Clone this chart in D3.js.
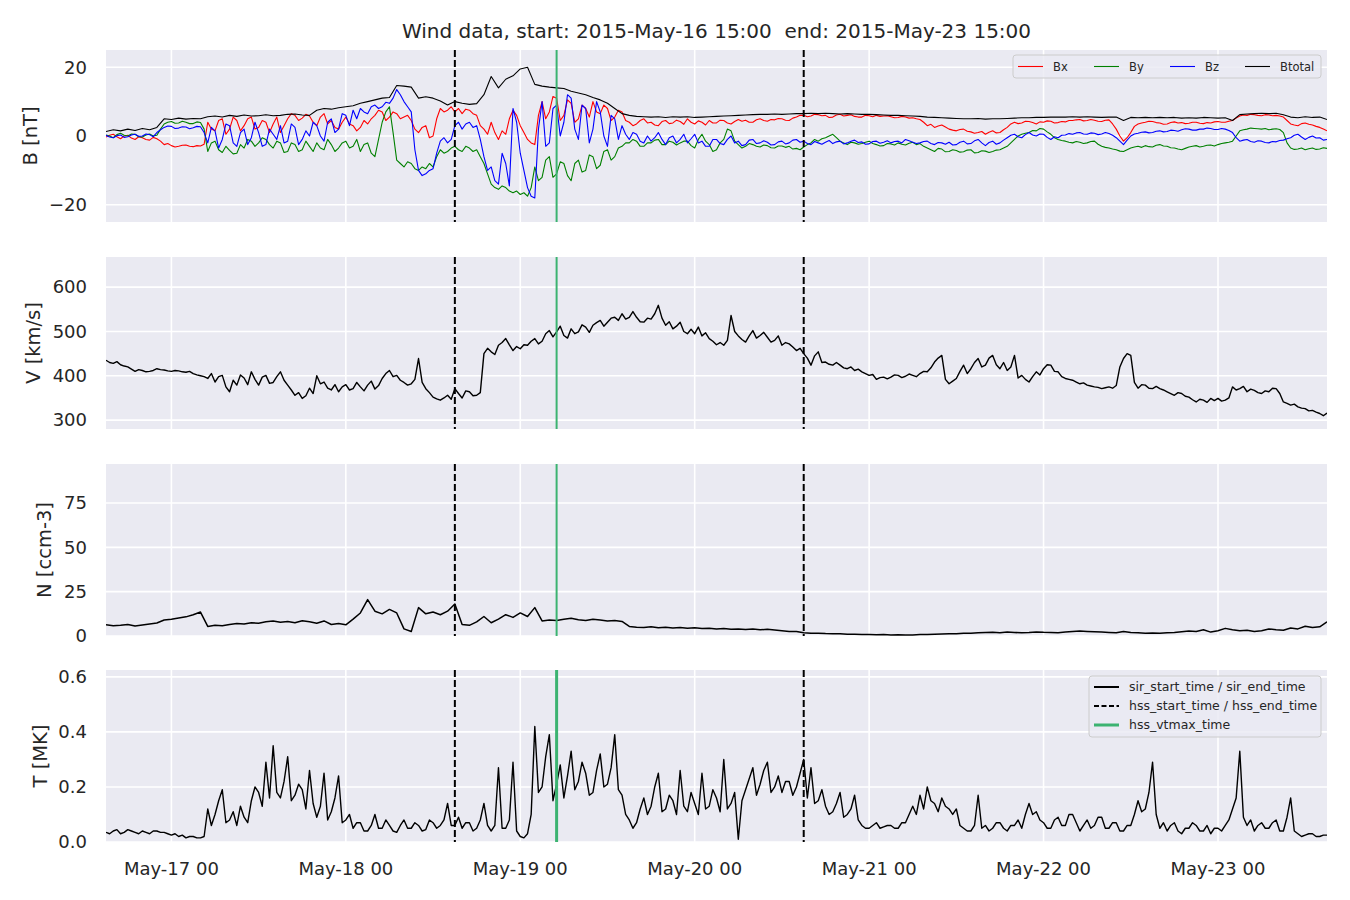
<!DOCTYPE html>
<html><head><meta charset="utf-8">
<script src="https://cdn.jsdelivr.net/npm/d3@7"></script>
<style>
body{margin:0;background:#fff;}
text{font-family:"DejaVu Sans",sans-serif;fill:#262626;}
</style>
</head><body>
<svg id="chart" width="1350" height="900"></svg>
<script>
// ---------------- DATA ----------------
const startTime = "2015-05-16T15:00:00Z";
const endTime   = "2015-05-23T15:00:00Z";
const titleText = "Wind data, start: 2015-May-16 15:00  end: 2015-May-23 15:00";

// magnetic field components, half-hourly samples [nT]
const bx = [-0.3,0.2,0.5,-0.2,-0.8,0.0,0.2,-0.6,-1.0,-0.2,-0.5,-1.0,-1.2,-0.4,-0.8,-1.5,
-2.5,-2.2,-2.8,-3.2,-3.0,-2.7,-2.6,-3.0,-3.1,-2.8,-2.9,-2.4,
4.0,2.0,1.5,4.5,5.0,0.5,2.0,5.5,4.5,1.5,3.0,5.0,5.5,2.0,2.5,4.5,4.0,1.0,3.5,5.5,1.0,3.0,5.0,6.5,6.0,4.5,5.2,6.3,5.8,4.0,
3.0,5.5,6.5,3.5,4.5,2.5,2.0,4.0,5.5,3.5,3.0,1.5,2.5,4.5,3.5,5.0,
6.0,7.5,7.0,4.5,5.5,7.0,6.5,5.0,
5.5,6.0,4.5,2.0,1.0,2.5,3.0,-0.5,0.0,5.0,8.0,7.0,7.5,8.5,
7.0,8.0,6.5,7.8,7.5,6.5,6.0,3.0,2.0,0.5,4.0,1.0,-1.0,1.5,0.5,5.0,7.5,6.0,3.0,1.0,-1.0,-2.0,
-2.5,6.0,10.0,5.0,7.0,11.5,11.0,4.5,6.0,10.5,9.5,4.0,5.0,9.0,8.0,5.5,10.0,7.0,6.5,9.0,8.0,4.5,5.5,7.5,7.0,4.5,
4.0,3.0,3.5,4.5,5.0,3.8,4.0,3.2,3.0,4.2,4.5,3.6,3.8,4.6,4.2,3.4,5.0,4.0,3.5,4.4,4.0,3.2,4.5,3.8,3.8,4.6,
4.5,3.8,3.5,4.2,4.8,4.3,4.6,4.0,4.0,4.7,5.0,4.5,4.3,4.8,4.7,5.1,5.0,4.6,4.5,5.2,5.5,6.0,
6.0,5.6,5.8,6.3,6.2,5.9,6.0,5.4,5.5,6.1,6.3,5.8,6.0,6.2,5.7,5.5,5.5,6.0,5.9,5.6,6.0,5.7,5.8,5.9,5.6,5.3,5.4,5.7,5.5,5.2,5.3,5.0,4.8,4.0,
3.0,3.4,2.5,2.9,3.2,2.6,2.0,1.7,
1.5,1.9,2.0,1.4,1.2,0.8,1.0,1.3,0.5,1.1,1.5,0.9,1.0,1.8,2.5,3.5,
4.0,3.6,3.8,4.3,4.2,3.9,3.5,4.1,4.0,4.4,4.3,3.8,3.9,4.2,4.1,4.5,4.5,4.7,
4.8,4.4,4.5,4.8,4.6,4.3,4.2,4.6,4.7,3.5,2.0,0.0,
-1.5,-0.5,1.0,2.8,
3.5,3.8,4.0,4.3,4.2,3.9,3.8,3.4,3.5,3.9,4.1,3.8,3.9,3.6,3.7,4.0,4.0,3.7,3.6,3.9,3.8,4.1,4.2,4.0,4.0,4.3,4.5,5.2,
5.8,6.1,6.0,6.3,6.2,6.0,5.9,6.2,6.1,5.9,6.0,5.8,5.5,4.5,
3.5,3.2,3.0,3.6,3.8,3.4,3.2,2.8,2.5,2.0,1.5];

const by = [0.3,0.0,-0.5,0.4,0.8,0.2,0.0,0.6,0.5,-0.2,-0.3,0.3,0.6,0.0,0.2,2.0,
3.5,4.0,4.2,3.7,3.8,4.3,4.0,3.6,3.6,4.1,3.9,2.0,
-4.5,-2.0,-1.5,-4.0,-4.8,-3.0,-4.2,-5.2,-5.0,-2.5,-3.5,-1.0,-1.5,-3.0,-2.0,-0.5,-1.0,-2.5,-3.5,-1.5,-2.0,-4.8,-4.5,-2.0,-2.5,-4.5,-4.0,-1.5,-3.0,-4.5,
-2.0,-3.5,-4.0,-1.0,-2.5,-4.5,-3.5,-2.0,-1.5,-3.5,-3.0,-1.0,-4.5,-2.5,-2.0,-5.0,
-6.0,-1.0,4.0,7.0,8.5,1.0,-7.0,-8.0,
-9.0,-7.5,-8.0,-9.5,-10.0,-9.0,-9.5,-8.0,-9.0,-6.0,-4.0,-5.0,-4.5,-3.5,
-3.0,-4.0,-4.5,-3.0,-3.5,-4.5,-4.0,-6.0,-8.0,-11.0,-14.0,-15.0,-15.5,-14.5,-15.0,-16.0,-16.5,-16.0,-17.0,-16.5,-17.5,-15.0,
-9.0,-13.0,-12.0,-7.0,-6.0,-12.0,-11.0,-7.5,-8.0,-11.5,-13.0,-8.0,-7.0,-10.5,-10.0,-5.5,-6.0,-9.5,-8.5,-4.5,-4.0,-7.0,-6.0,-3.5,-3.0,-2.0,
-2.0,-1.0,-1.5,-3.0,-3.0,-2.0,-2.0,-1.2,-1.0,-2.5,-2.5,-1.5,-1.8,-2.6,-2.0,-1.5,-1.5,-2.8,-3.5,-1.0,0.5,-1.5,-2.5,-4.5,-4.0,-2.0,
-1.0,2.0,1.5,-1.5,-2.5,-3.5,-3.0,-2.2,-2.5,-3.0,-3.2,-2.6,-2.8,-3.4,-3.5,-2.9,-2.9,-3.3,-3.0,-3.8,-3.6,-4.0,
-3.2,-2.5,-2.0,-1.0,-1.5,-0.8,-0.5,0.0,0.5,-0.5,-1.5,-2.0,-2.5,-1.8,-2.0,-2.4,-2.2,-1.8,-1.5,-2.2,-2.5,-2.9,-2.8,-2.2,-2.3,-2.6,-2.0,-2.4,-2.6,-2.1,-1.8,-2.5,-2.2,-3.0,
-3.5,-4.0,-4.5,-3.6,-3.8,-4.6,-4.5,-4.0,
-4.2,-4.7,-4.6,-4.1,-4.0,-4.9,-4.8,-4.3,-4.4,-4.8,-4.5,-4.1,-4.0,-3.5,-3.0,-2.0,
-1.0,0.0,0.5,0.8,1.0,1.6,1.5,2.2,2.0,1.2,0.5,-0.5,-1.0,-1.3,-1.5,-1.8,-2.0,-1.6,
-1.8,-2.2,-2.0,-1.6,-1.5,-2.4,-3.0,-3.3,-3.5,-3.8,-4.0,-4.4,
-4.5,-4.0,-3.5,-3.2,
-3.0,-3.3,-2.8,-3.1,-3.2,-2.7,-2.5,-2.9,-3.0,-3.4,-3.5,-3.8,-4.0,-3.6,-3.2,-3.0,-2.8,-3.2,-3.0,-2.7,-2.6,-2.9,-2.5,-2.2,-2.0,-1.8,-1.5,0.0,
1.5,1.8,2.0,2.3,2.2,2.1,2.0,2.2,1.8,2.0,2.1,1.9,1.0,-2.0,
-3.5,-3.9,-3.8,-3.5,-4.0,-3.7,-3.5,-3.9,-3.8,-3.4,-3.6];

const bz = [0.2,-0.3,-0.5,0.1,0.3,-0.4,-0.2,0.3,0.5,-0.1,0.0,0.6,0.4,-0.2,1.0,1.8,
2.5,2.9,2.8,2.2,2.3,2.7,2.6,2.1,2.4,2.8,2.7,1.0,
-2.0,2.5,1.5,-3.5,-1.0,3.5,3.0,-2.0,-3.0,1.0,2.0,-2.5,-0.5,4.0,1.0,-3.0,-2.5,2.0,0.5,-1.0,3.0,-2.0,-1.5,3.5,2.5,-2.5,-1.0,1.5,0.0,4.0,
3.0,0.0,-1.5,4.0,5.0,1.0,2.0,6.5,6.0,3.0,7.5,5.0,8.0,7.0,6.5,8.5,
9.0,8.0,8.5,9.8,9.5,11.0,13.5,12.0,
10.0,8.5,7.0,-4.0,-10.0,-11.5,-11.0,-10.0,-9.5,-5.0,-1.5,-0.5,-2.0,-1.0,
3.0,4.0,2.0,3.5,4.0,2.5,3.0,-1.0,-6.0,-10.0,-9.0,-13.0,-14.0,-5.0,-8.0,-14.5,8.0,4.0,-5.0,-10.0,-15.0,-17.5,
-18.0,2.0,10.0,-3.0,-2.0,8.0,9.0,0.0,4.0,12.0,11.0,2.0,-1.0,9.0,8.0,-2.0,2.0,10.0,7.0,0.0,-3.0,6.0,5.0,-1.0,3.0,0.5,
-1.0,1.0,0.5,-1.5,-2.0,0.0,-1.5,-0.5,1.0,-1.0,-2.5,-0.5,0.0,-2.0,-1.0,0.5,-2.0,-0.8,0.5,-2.0,-1.5,-3.0,-3.0,-1.0,-1.0,-2.2,
-2.5,-1.0,0.0,-2.0,-1.5,-2.8,-2.5,-1.2,-1.0,-2.2,-2.0,-1.4,-1.8,-2.6,-2.5,-1.7,-1.5,-2.3,-2.0,-1.2,-1.0,-1.8,
-1.5,-2.2,-2.5,-1.6,-2.0,-2.4,-1.8,-1.3,-2.2,-1.7,-1.5,-2.3,-2.0,-1.5,-1.2,-1.9,-1.7,-2.4,-2.3,-1.6,-1.5,-2.1,-1.8,-1.4,-2.0,-1.6,-1.5,-2.0,-1.0,-1.4,-1.8,-2.2,-2.0,-1.6,
-1.5,-2.2,-2.5,-1.9,-2.0,-2.4,-1.8,-2.6,
-2.5,-1.8,-1.5,-2.3,-2.2,-1.4,-1.0,-2.0,-2.8,-1.9,-1.5,-2.4,-2.0,-1.2,-0.5,0.2,
0.5,-0.2,-0.5,0.4,1.0,0.3,0.0,0.6,0.5,-0.4,-1.0,-0.2,-0.5,0.2,0.3,0.7,0.5,0.9,
1.0,0.6,0.5,0.9,0.8,0.4,0.6,1.0,0.7,0.2,-0.5,-1.5,
-2.5,-1.2,0.0,0.6,
0.8,1.1,1.2,0.9,1.0,1.4,1.5,1.2,1.3,1.7,1.6,1.4,1.8,2.1,2.0,1.7,1.7,2.0,2.0,2.3,2.2,1.9,1.9,2.2,2.0,1.6,1.0,-0.5,
-1.5,-1.2,-1.0,-1.6,-1.8,-1.4,-1.5,-1.9,-2.0,-1.6,-1.7,-1.3,-1.2,-0.8,
-0.5,0.2,0.5,-0.3,-1.0,-0.4,0.0,-0.6,-0.5,-1.2,-1.0];

// total field, hourly samples [nT]
const btotal = [1.3,1.8,1.5,2.0,1.6,2.2,1.8,2.5,
5.0,4.8,5.2,4.9,5.1,5.0,
5.6,5.8,5.5,6.0,5.7,6.1,5.8,5.9,6.2,5.9,6.0,6.3,6.4,6.1,6.0,
7.5,8.0,7.8,8.2,8.5,8.8,9.5,10.0,
10.5,11.0,11.2,14.7,
14.5,14.2,
11.0,11.4,11.0,
10.2,9.0,
10.0,9.5,9.2,9.4,
12.0,17.3,
14.0,16.5,
17.5,19.5,20.0,
15.0,14.5,14.2,14.0,13.8,13.0,12.5,12.0,11.2,10.5,9.5,8.0,6.5,
6.0,5.7,5.6,5.5,5.6,5.4,5.6,5.5,5.6,5.4,5.5,5.6,5.7,
5.8,5.9,6.0,6.1,6.2,6.3,6.3,6.4,6.3,6.4,6.5,
6.5,6.6,6.5,6.6,6.5,6.4,6.5,6.4,6.3,6.3,6.2,6.1,6.0,6.0,5.9,5.8,5.7,
5.5,5.4,5.3,5.2,
5.1,5.0,5.0,5.1,4.9,5.0,5.0,5.1,
5.2,5.3,5.3,5.4,5.4,5.5,5.5,5.5,5.6,
5.5,5.6,5.5,5.4,5.5,5.5,
4.5,5.4,
5.3,5.4,5.3,5.4,5.3,5.4,5.2,5.3,5.2,5.4,5.3,5.2,5.3,4.5,
6.2,6.4,6.5,6.6,6.5,6.6,6.2,
5.5,5.3,5.6,5.4,5.5,4.8];

// solar wind speed, half-hourly samples [km/s]
const speed = [435,430,428,432,425,422,420,415,410,414,412,409,410,412,416,414,413,411,410,412,
411,409,408,410,405,402,400,398,
394,405,386,398,401,375,364,390,379,402,395,380,409,392,379,397,401,383,385,398,409,390,379,368,356,362,349,355,
372,360,400,382,386,372,368,380,364,375,380,368,371,385,375,366,379,388,370,378,394,405,412,398,401,390,385,379,382,392,439,385,371,362,352,348,345,350,356,347,371,360,350,366,364,355,356,362,
450,462,454,448,469,475,484,470,457,466,461,470,469,478,484,472,478,495,502,488,499,512,491,485,506,495,499,515,510,498,514,520,525,512,521,530,532,525,540,528,532,545,532,522,521,530,528,540,559,530,514,522,506,512,521,500,495,505,495,510,490,497,484,478,470,475,
469,480,536,500,490,482,476,490,502,485,491,498,487,476,480,490,469,475,472,465,457,462,450,440,424,445,454,430,431,426,
424,430,424,418,416,420,412,415,409,405,401,403,392,396,397,393,397,402,401,396,399,404,401,398,405,410,409,418,
431,440,446,392,382,388,394,410,424,405,416,430,439,420,424,440,446,425,416,430,412,420,446,395,401,392,386,398,409,402,416,425,424,410,409,398,394,392,390,386,382,384,379,377,375,374,371,373,375,372,378,420,439,450,446,385,
372,380,379,372,371,376,371,368,364,360,356,362,360,354,352,346,341,347,345,340,349,344,349,343,345,350,375,368,371,376,364,370,367,362,360,366,364,372,371,360,341,338,334,336,330,327,326,321,322,318,315,310,316];

// proton density, hourly samples [ccm-3]
const density = [6.3,5.8,6.0,6.5,5.6,6.2,6.8,7.3,
9.0,9.5,10.2,10.8,12.0,13.5,
5.4,6.0,5.8,6.5,7.0,6.8,7.5,7.2,8.0,
8.5,7.8,8.2,7.5,8.6,8.0,7.2,8.5,6.5,7.0,6.3,
9.5,13.0,20.5,14.0,12.5,15.0,13.0,
4.0,2.5,
16.0,12.5,13.5,12.0,14.0,
18.0,
6.5,6.0,
8.0,11.0,7.5,
9.5,12.0,10.5,13.0,11.0,
16.0,
8.5,9.0,8.8,9.5,10.0,9.2,8.8,9.5,9.0,8.5,8.8,8.2,
5.4,5.0,4.8,5.2,4.6,4.9,4.5,4.8,4.4,4.6,4.2,4.4,4.0,
4.2,3.8,4.0,3.6,3.9,3.5,3.8,3.4,3.0,2.6,2.5,
1.8,1.5,1.6,1.4,1.3,1.2,1.0,1.0,0.9,
0.8,0.7,0.8,0.6,0.7,0.6,0.6,0.8,0.9,1.0,1.1,1.2,1.3,1.5,1.6,1.8,
2.0,2.1,1.9,2.2,2.0,1.8,2.0,2.3,2.1,2.0,1.9,2.2,2.5,2.8,2.6,2.4,
2.2,2.0,1.8,2.5,2.0,1.8,1.6,1.7,1.5,1.8,2.0,
2.4,2.8,2.5,3.5,2.2,3.0,4.3,3.5,3.0,3.2,2.6,
3.0,4.0,3.5,3.2,4.5,4.0,5.5,4.8,5.2,8.0];

// proton temperature, half-hourly samples [MK]
const temperature = [0.035,0.03,0.04,0.045,0.03,0.035,0.045,0.04,0.035,0.03,0.04,0.035,0.03,0.04,0.04,0.035,0.035,0.03,
0.025,0.03,0.02,0.025,0.015,0.02,0.02,0.015,0.015,0.02,
0.12,0.06,0.10,0.15,0.19,0.07,0.08,0.11,0.06,0.13,0.09,0.07,
0.15,0.20,0.18,0.13,0.29,0.16,0.35,0.18,
0.16,0.22,0.31,0.15,0.17,0.21,0.19,0.12,0.26,0.14,
0.09,0.13,0.25,0.08,0.11,0.16,0.24,0.07,0.08,0.10,
0.05,0.07,0.07,0.04,0.04,0.06,0.10,0.05,0.05,0.08,0.06,0.04,0.035,0.06,0.08,0.05,0.05,0.07,0.06,0.04,0.045,0.08,0.07,0.05,0.06,0.08,0.14,0.06,
0.06,0.09,0.05,0.07,0.07,0.04,0.05,0.08,0.14,0.06,
0.04,0.06,0.27,0.05,0.05,0.08,0.29,0.04,
0.02,0.015,0.03,0.10,
0.42,0.18,0.20,0.31,0.39,0.15,0.21,0.28,0.16,0.24,0.33,0.19,0.22,0.29,0.25,0.17,0.18,0.26,0.32,0.20,0.21,0.27,0.39,0.19,0.17,0.10,
0.08,0.05,0.07,0.12,0.16,0.10,0.13,0.20,0.25,0.11,0.12,0.17,0.15,0.10,0.26,0.13,0.11,0.18,0.14,0.10,0.25,0.12,0.13,0.19,0.16,0.11,
0.30,0.12,0.14,0.18,0.01,0.15,
0.19,0.23,0.27,0.17,0.21,0.26,0.29,0.18,0.20,0.24,0.18,0.22,0.22,0.17,0.20,0.25,
0.30,0.16,0.27,0.14,0.15,0.19,0.13,0.10,
0.11,0.14,0.18,0.09,0.10,0.12,0.17,0.08,
0.06,0.05,0.05,0.06,0.07,0.05,0.055,0.06,0.06,0.05,0.05,0.07,0.07,0.10,
0.13,0.10,0.17,0.12,0.20,0.15,0.14,0.11,0.16,0.13,0.12,0.10,0.12,0.06,
0.05,0.04,0.04,0.06,0.17,0.05,0.06,0.04,0.05,0.07,0.07,0.05,0.04,0.06,0.06,0.08,0.05,0.10,
0.14,0.10,0.11,0.08,
0.07,0.05,0.05,0.08,0.09,0.06,0.06,0.10,0.10,0.07,0.04,0.06,0.08,0.05,0.06,0.09,0.09,0.05,0.05,0.07,0.07,0.04,0.04,0.06,0.06,0.10,
0.15,0.11,0.12,0.18,0.29,0.10,
0.05,0.07,0.04,0.06,0.07,0.04,0.03,0.05,0.05,0.07,0.06,0.04,0.04,0.06,0.03,0.05,0.05,0.04,0.06,0.08,
0.12,0.16,0.33,0.09,
0.06,0.08,0.04,0.06,0.07,0.05,0.05,0.07,0.08,0.04,0.04,0.09,
0.16,0.04,
0.03,0.02,0.025,0.03,0.03,0.02,0.02,0.025,0.025];

const bNames = ["Bx","By","Bz","Btotal"];
const bColors = ["#ff0000","#008000","#0000ff","#000000"];

const hssStart = "2015-05-18T15:00:00Z";
const hssVtmax = "2015-05-19T05:00:00Z";
const hssEnd   = "2015-05-20T15:00:00Z";

const bTicks = [-20,0,20];
const vTicks = [300,400,500,600];
const nTicks = [0,25,50,75];
const tTicks = [0.0,0.2,0.4,0.6];
const tTickLabels = ["0.0","0.2","0.4","0.6"];

const legendEvents = ["sir_start_time / sir_end_time","hss_start_time / hss_end_time","hss_vtmax_time"];

// ---------------- LAYOUT ----------------
const svg = d3.select("#chart");
const X0 = 106, X1 = 1327;
const t0 = new Date(startTime);
const x = d3.scaleUtc().domain([new Date(startTime), new Date(endTime)]).range([X0, X1]);
const FACE = "#EAEAF2";
const GREEN = "#3cb371";
const TICKFS = "18px", LABFS = "19.5px";

svg.append("text").attr("x", (X0+X1)/2).attr("y", 38).attr("text-anchor","middle")
  .style("font-size","20px").style("white-space","pre").text(titleText);

const panels = [
  {top:50,  bottom:222, domain:[-25,25],   ticks:bTicks, fmt:d=>String(d).replace("-","\u2212"), label:"B [nT]",   labelX:30},
  {top:257, bottom:429, domain:[280,668],  ticks:vTicks, fmt:d=>String(d), label:"V [km/s]", labelX:33},
  {top:464, bottom:636, domain:[0,97],     ticks:nTicks, fmt:d=>String(d), label:"N [ccm-3]", labelX:44},
  {top:670, bottom:842, domain:[0,0.625],  ticks:tTicks, fmt:(d,i)=>tTickLabels[i], label:"T [MK]", labelX:40}
];

const dayTicks = x.ticks(d3.utcDay.every(1));

panels.forEach((p, pi) => {
  const y = d3.scaleLinear().domain(p.domain).range([p.bottom, p.top]);
  p.y = y;
  const g = svg.append("g");
  g.append("rect").attr("x",X0).attr("y",p.top).attr("width",X1-X0).attr("height",p.bottom-p.top).attr("fill",FACE);
  g.selectAll(".vg").data(dayTicks).enter().append("line")
    .attr("x1",d=>x(d)).attr("x2",d=>x(d)).attr("y1",p.top).attr("y2",p.bottom)
    .attr("stroke","#fff").attr("stroke-width",1.6);
  g.selectAll(".hg").data(p.ticks).enter().append("line")
    .attr("x1",X0).attr("x2",X1).attr("y1",d=>y(d)).attr("y2",d=>y(d))
    .attr("stroke","#fff").attr("stroke-width",1.6);
  g.selectAll(".tl").data(p.ticks).enter().append("text")
    .attr("x",87).attr("y",d=>y(d)).attr("dy","0.35em").attr("text-anchor","end")
    .style("font-size",TICKFS).text((d,i)=>p.fmt(d,i));
  const cy = (p.top+p.bottom)/2;
  g.append("text").attr("transform",`translate(${p.labelX},${cy}) rotate(-90)`)
    .attr("text-anchor","middle").attr("dy","0.35em").style("font-size",LABFS).text(p.label);
  svg.append("clipPath").attr("id","clip"+pi).append("rect")
    .attr("x",X0).attr("y",p.top).attr("width",X1-X0).attr("height",p.bottom-p.top);
  p.g = svg.append("g").attr("clip-path",`url(#clip${pi})`);
});

function drawSeries(p, arr, stepHours, color, width){
  const line = d3.line()
    .x((d,i)=>x(new Date(t0.getTime() + i*stepHours*3600000)))
    .y(d=>p.y(d));
  p.g.append("path").datum(arr).attr("d",line).attr("fill","none")
    .attr("stroke",color).attr("stroke-width",width).attr("stroke-linejoin","round");
}

drawSeries(panels[0], bx, 0.5, bColors[0], 1.1);
drawSeries(panels[0], by, 0.5, bColors[1], 1.1);
drawSeries(panels[0], bz, 0.5, bColors[2], 1.1);
drawSeries(panels[0], btotal, 1, bColors[3], 1.1);
drawSeries(panels[1], speed, 0.5, "#000", 1.4);
drawSeries(panels[2], density, 1, "#000", 1.5);
drawSeries(panels[3], temperature, 0.5, "#000", 1.4);

panels.forEach((p, pi) => {
  [hssStart, hssEnd].forEach(t => {
    p.g.append("line").attr("x1",x(new Date(t))).attr("x2",x(new Date(t)))
      .attr("y1",p.top).attr("y2",p.bottom).attr("stroke","#000").attr("stroke-width",2)
      .attr("stroke-dasharray","7,3");
  });
  p.g.append("line").attr("x1",x(new Date(hssVtmax))).attr("x2",x(new Date(hssVtmax)))
    .attr("y1",p.top).attr("y2",p.bottom).attr("stroke",GREEN).attr("stroke-width", pi===3 ? 3 : 2);
});

svg.selectAll(".xl").data(dayTicks).enter().append("text")
  .attr("x",d=>x(d)).attr("y",875).attr("text-anchor","middle")
  .style("font-size",TICKFS).text(d3.utcFormat("%b-%d %H"));

// legend B
{
  const lg = svg.append("g");
  lg.append("rect").attr("x",1013).attr("y",55).attr("width",308).attr("height",23).attr("rx",3)
    .attr("fill",FACE).attr("fill-opacity",0.8).attr("stroke","#cccccc").attr("stroke-width",1);
  const lx = [1018,1094,1170,1245];
  bNames.forEach((n,k)=>{
    lg.append("line").attr("x1",lx[k]).attr("x2",lx[k]+25).attr("y1",66.5).attr("y2",66.5)
      .attr("stroke",bColors[k]).attr("stroke-width",1.1);
    lg.append("text").attr("x",lx[k]+35).attr("y",66.5).attr("dy","0.35em").style("font-size","11.5px").text(n);
  });
}
// legend T
{
  const lg = svg.append("g");
  lg.append("rect").attr("x",1089).attr("y",676).attr("width",232).attr("height",61).attr("rx",3)
    .attr("fill",FACE).attr("fill-opacity",0.8).attr("stroke","#cccccc").attr("stroke-width",1);
  const rows = [687,706,725];
  const styles = [{c:"#000",d:null,w:2},{c:"#000",d:"5,2.5",w:2},{c:GREEN,d:null,w:3}];
  legendEvents.forEach((n,k)=>{
    const l = lg.append("line").attr("x1",1094).attr("x2",1119).attr("y1",rows[k]).attr("y2",rows[k])
      .attr("stroke",styles[k].c).attr("stroke-width",styles[k].w);
    if(styles[k].d) l.attr("stroke-dasharray",styles[k].d);
    lg.append("text").attr("x",1129).attr("y",rows[k]).attr("dy","0.35em").style("font-size","12.5px").text(n);
  });
}
</script>
</body></html>
